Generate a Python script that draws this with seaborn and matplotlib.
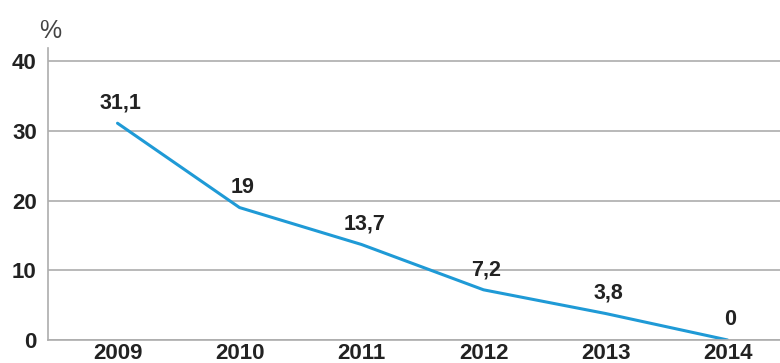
import matplotlib
matplotlib.use("Agg")
import matplotlib.pyplot as plt
import seaborn as sns
import pandas as pd

# -----------------------------------
# Data
# -----------------------------------

years = [2009, 2010, 2011, 2012, 2013, 2014]
values = [31.1, 19, 13.7, 7.2, 3.8, 0]
value_labels = ["31,1", "19", "13,7", "7,2", "3,8", "0"]
y_ticks = [0, 10, 20, 30, 40]

df = pd.DataFrame({"year": years, "value": values})

# -----------------------------------
# Style
# -----------------------------------

sns.set_style("white")
plt.rcParams["font.family"] = ["Liberation Sans", "DejaVu Sans"]

line_color = "#1f9ad6"
grid_color = "#adadad"
text_color = "#222222"

fig = plt.figure(figsize=(7.8, 3.63), dpi=100)
ax = fig.add_axes([0.0615, 0.0634, 0.9385, 0.8045])

# -----------------------------------
# Line
# -----------------------------------

sns.lineplot(
    data=df,
    x="year",
    y="value",
    color=line_color,
    linewidth=2.2,
    ax=ax
)

for x, y, lab in zip(years, values, value_labels):
    ax.annotate(
        lab,
        xy=(x, y),
        xytext=(2, 7),
        textcoords="offset points",
        ha="center",
        va="bottom",
        fontsize=15.5,
        fontweight="bold",
        color=text_color
    )

# -----------------------------------
# Axes
# -----------------------------------

ax.set_xlim(2008.43, 2014.43)
ax.set_ylim(0, 41.9)
ax.set_yticks(y_ticks)
ax.set_xticks(years)
ax.set_xticklabels([str(y) for y in years])

ax.yaxis.grid(True, color=grid_color, linewidth=1.2)
ax.set_axisbelow(True)

for side in ["top", "right"]:
    ax.spines[side].set_visible(False)
for side in ["left", "bottom"]:
    ax.spines[side].set_color(grid_color)
    ax.spines[side].set_linewidth(1.2)

ax.tick_params(axis="both", length=0, labelsize=16, labelcolor=text_color)
ax.tick_params(axis="y", pad=8)
ax.tick_params(axis="x", pad=2)
for t in ax.get_xticklabels() + ax.get_yticklabels():
    t.set_fontweight("bold")

ax.set_xlabel("")
ax.set_ylabel("")

fig.text(0.064, 0.915, "%", ha="center", va="center",
         fontsize=18, color="#444444")

plt.savefig("out.png", dpi=100)
plt.close()
